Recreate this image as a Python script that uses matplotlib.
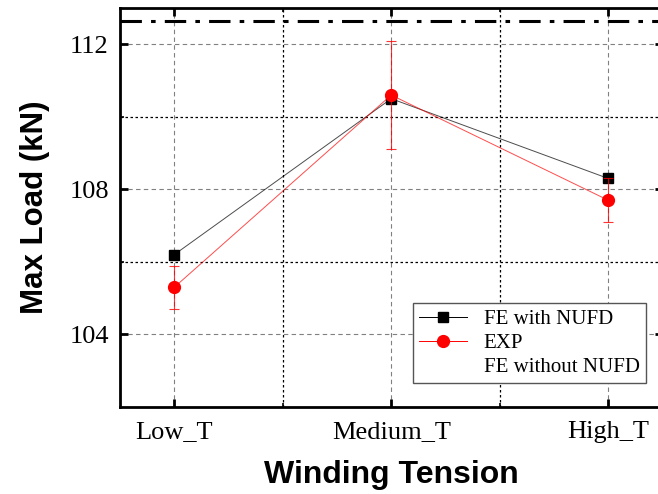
import matplotlib
matplotlib.use("Agg")
import matplotlib.pyplot as plt
from matplotlib.lines import Line2D
from matplotlib.ticker import MultipleLocator, FixedLocator

# data
categories = ["Low_T", "Medium_T", "High_T"]
fe_nufd = [106.2, 110.5, 108.3]
exp_mean = [105.3, 110.6, 107.7]
exp_err = [0.6, 1.5, 0.6]
fe_without_nufd = 112.65

x = [1, 2, 3]

fig = plt.figure(figsize=(6.58, 4.94), dpi=100)
ax = fig.add_axes([120 / 658, 87 / 494, 542.5 / 658, 399 / 494])

tick_font = "Liberation Serif"

# horizontal reference line
ax.axhline(fe_without_nufd, color="black", lw=2.2, dashes=(7, 3, 1.5, 3), zorder=3)

ax.plot(x, fe_nufd, color="black", lw=0.7, alpha=0.7, zorder=4)
ax.plot(x, fe_nufd, ls="none", marker="s", ms=7.5, color="black", zorder=5)
ax.errorbar(x, exp_mean, yerr=exp_err, fmt="none", ecolor="red", elinewidth=0.8,
            capsize=3.5, capthick=0.8, alpha=0.8, zorder=5)
ax.plot(x, exp_mean, color="red", lw=0.7, alpha=0.7, zorder=4)
ax.plot(x, exp_mean, ls="none", marker="o", ms=8.5, color="red", zorder=6)

ax.set_xlim(0.75, 3.25)
ax.set_ylim(102, 113)
ax.xaxis.set_major_locator(FixedLocator(x))
ax.xaxis.set_minor_locator(FixedLocator([1.5, 2.5]))
ax.yaxis.set_major_locator(MultipleLocator(4))
ax.yaxis.set_minor_locator(FixedLocator([106, 110]))
ax.set_xticklabels(categories)

ax.grid(which="major", color="#808080", ls=(0, (4, 3)), lw=0.8)
ax.grid(which="minor", color="black", ls=(0, (2, 2)), lw=0.9)
ax.set_axisbelow(True)

for s in ax.spines.values():
    s.set_linewidth(2)
ax.tick_params(which="major", direction="in", length=6, width=2,
               top=True, right=True, labelsize=19)
ax.tick_params(axis="x", which="major", pad=10)
ax.tick_params(axis="y", which="major", pad=8)
ax.tick_params(which="minor", direction="in", length=3, width=1.2,
               top=True, right=True)
for lab in ax.get_xticklabels() + ax.get_yticklabels():
    lab.set_fontfamily(tick_font)

ax.set_xlabel("Winding Tension", fontsize=23, fontweight="bold",
              family="Liberation Sans", labelpad=12)
ax.set_ylabel("Max Load (kN)", fontsize=22.5, fontweight="bold",
              family="Liberation Sans", labelpad=14)

handles = [
    Line2D([], [], color="black", lw=0.7, marker="s", ms=7.5, mfc="black", mec="black"),
    Line2D([], [], color="red", lw=0.7, marker="o", ms=8.5, mfc="red", mec="red"),
    Line2D([], [], color="none", lw=0),
]
labels = ["FE with NUFD", "EXP", "FE without NUFD"]
leg = ax.legend(handles, labels, loc="lower right", bbox_to_anchor=(0.9696, 0.06),
                borderaxespad=0, fancybox=False, framealpha=1, edgecolor="#555555",
                prop={"family": tick_font, "size": 15}, handlelength=2.3,
                labelspacing=0.2, borderpad=0.3, handletextpad=0.8)
leg.get_frame().set_linewidth(1)

fig.savefig("out.png", dpi=100)
